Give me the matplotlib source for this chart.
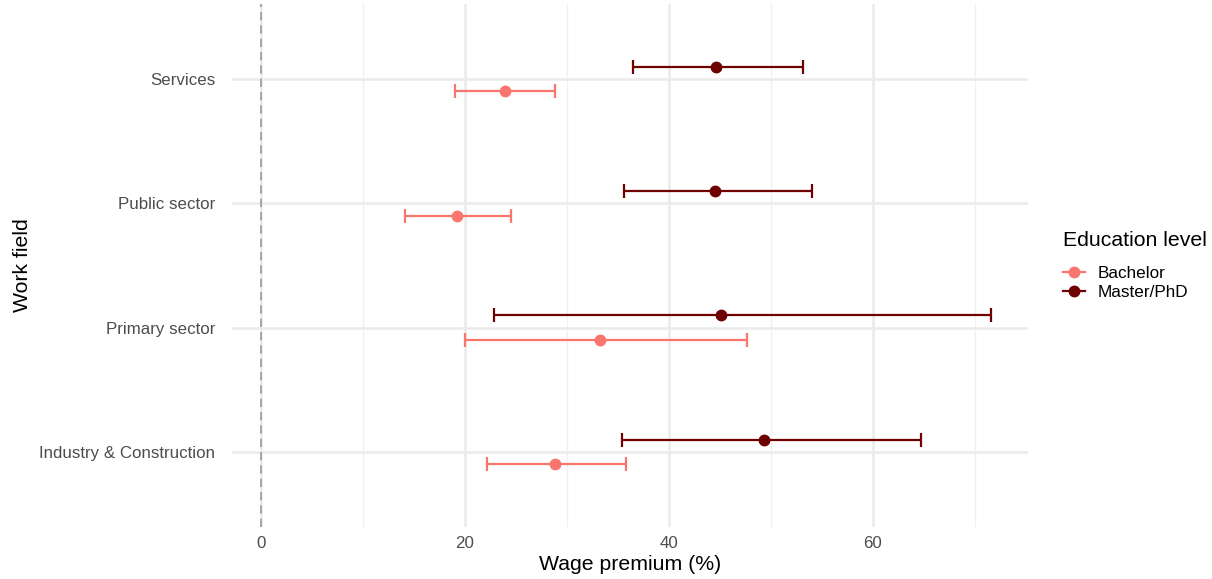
import matplotlib.pyplot as plt
from matplotlib.lines import Line2D
import numpy as np

plt.rcParams['font.family'] = ['Liberation Sans', 'DejaVu Sans']

# data (categories bottom to top)
fields = ['Industry & Construction', 'Primary sector', 'Public sector', 'Services']
bach_est = [28.8, 33.2, 19.2, 23.9]
bach_lo = [22.2, 20.0, 14.1, 19.0]
bach_hi = [35.8, 47.7, 24.5, 28.8]
mast_est = [49.3, 45.1, 44.5, 44.6]
mast_lo = [35.4, 22.8, 35.6, 36.5]
mast_hi = [64.7, 71.6, 54.0, 53.2]

BACH_COL = '#F8766D'
MAST_COL = '#6E0000'

fig = plt.figure(figsize=(12.12, 5.79), dpi=100)
ax = fig.add_axes([0.1914, 0.0905, 0.6566, 0.9019])

y = np.arange(1, len(fields) + 1)
dodge = 0.1

handles = []
for est, lo, hi, off, col, lab in [
        (bach_est, bach_lo, bach_hi, -dodge, BACH_COL, 'Bachelor'),
        (mast_est, mast_lo, mast_hi, dodge, MAST_COL, 'Master/PhD')]:
    est = np.array(est)
    err = [est - np.array(lo), np.array(hi) - est]
    ax.errorbar(est, y + off, xerr=err, fmt='o', color=col, ecolor=col,
                elinewidth=1.6, capsize=5, capthick=1.6, markersize=7.5,
                zorder=3)
    handles.append(Line2D([], [], color=col, marker='o', markersize=7.5,
                          linewidth=1.6, label=lab))

ax.axvline(0, color='#999999', linestyle=(0, (5, 3)), linewidth=1.2, zorder=2)

ax.set_xlim(-2.85, 75.2)
ax.set_ylim(0.4, 4.6)
ax.set_xticks([0, 20, 40, 60])
ax.set_xticks([10, 30, 50, 70], minor=True)
ax.set_yticks(y)
ax.set_yticklabels(fields)

ax.grid(True, which='major', color='#EBEBEB', linewidth=1.8, zorder=0)
ax.grid(True, which='minor', axis='x', color='#F0F0F0', linewidth=1.0, zorder=0)
ax.set_axisbelow(True)
for s in ax.spines.values():
    s.set_visible(False)
ax.tick_params(which='both', length=0, labelsize=12.2, labelcolor='#4D4D4D')
ax.tick_params(axis='y', pad=12)
ax.tick_params(axis='x', pad=7)

ax.set_xlabel('Wage premium (%)', fontsize=15.3, labelpad=3)
ax.set_ylabel('Work field', fontsize=15.3, labelpad=5)

leg = ax.legend(handles=handles, loc='center left', bbox_to_anchor=(1.025, 0.5),
                frameon=False, title='Education level', fontsize=12.3,
                title_fontsize=15.3, handletextpad=0.7, handlelength=1.3,
                labelspacing=0.25, borderaxespad=0.5)
leg._legend_box.align = 'left'
leg._legend_box.sep = 12

fig.savefig('out.png', dpi=100)
